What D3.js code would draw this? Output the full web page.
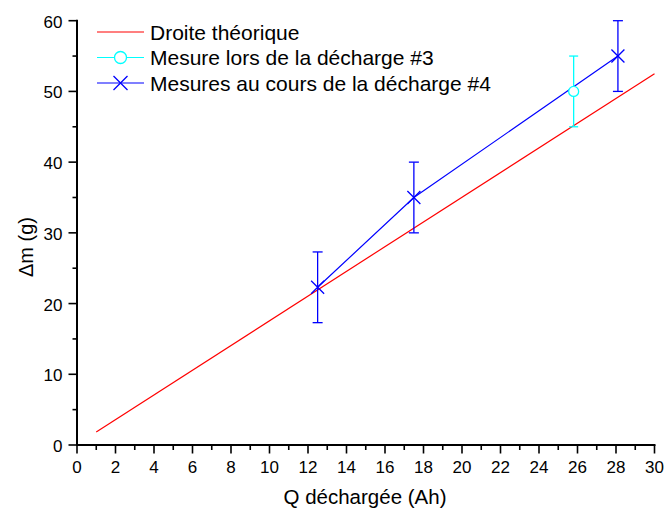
<!DOCTYPE html>
<html><head><meta charset="utf-8">
<script src="https://cdn.jsdelivr.net/npm/d3@7"></script>
<style>body{margin:0;background:#fff}svg{display:block}text{font-family:"Liberation Sans",Arial,sans-serif;fill:#000}</style>
</head><body>
<svg id="c" width="664" height="510"></svg>
<script>
// Data
const theoQ = [1, 30];
const theoDm = [1.85, 52.5];
const d3Q = [25.8];
const d3Dm = [50];
const d3Err = [5];
const d4Q = [12.5, 17.5, 28.1];
const d4Dm = [22.3, 35, 55];
const d4Err = [5, 5, 5];
const xTicks = [0,2,4,6,8,10,12,14,16,18,20,22,24,26,28,30];
const yTicks = [0,10,20,30,40,50,60];
const legendLabels = ["Droite théorique", "Mesure lors de la décharge #3", "Mesures au cours de la décharge #4"];
const xTitle = "Q déchargée (Ah)";
const yTitle = "Δm (g)";

const svg = d3.select("#c");
const x = d3.scaleLinear().domain([0,30]).range([77,654.5]);
const y = d3.scaleLinear().domain([0,60]).range([445,20.7]);
const RED="#ff0000", CYAN="#00ffff", BLUE="#0000ff";

// theoretical line
svg.append("path").datum(theoQ.map((q,i)=>[q,theoDm[i]]))
  .attr("d", d3.line().x(d=>x(d[0])).y(d=>y(d[1])))
  .attr("fill","none").attr("stroke",RED).attr("stroke-width",1.2);

// series #4 line
svg.append("path").datum(d4Q.map((q,i)=>[q,d4Dm[i]]))
  .attr("d", d3.line().x(d=>x(d[0])).y(d=>y(d[1])))
  .attr("fill","none").attr("stroke",BLUE).attr("stroke-width",1.2);

function errBars(Q, Dm, E, col, cap){
  const g = svg.append("g").attr("stroke",col).attr("stroke-width",1.3).attr("fill","none");
  Q.forEach((q,i)=>{
    const cx = x(q), y1 = y(Dm[i]+E[i]), y0 = y(Dm[i]-E[i]);
    g.append("line").attr("x1",cx).attr("x2",cx).attr("y1",y1).attr("y2",y0);
    g.append("line").attr("x1",cx-cap).attr("x2",cx+cap).attr("y1",y1).attr("y2",y1);
    g.append("line").attr("x1",cx-cap).attr("x2",cx+cap).attr("y1",y0).attr("y2",y0);
  });
}
errBars(d3Q,d3Dm,d3Err,CYAN,4.5);
errBars(d4Q,d4Dm,d4Err,BLUE,5);

function circleMarker(g,cx,cy,r){ g.append("circle").attr("cx",cx).attr("cy",cy).attr("r",r).attr("fill","#fff").attr("stroke",CYAN).attr("stroke-width",1.3); }
function crossMarker(g,cx,cy,h){
  g.append("path").attr("d",`M${cx-h},${cy-h}L${cx+h},${cy+h}M${cx-h},${cy+h}L${cx+h},${cy-h}`).attr("stroke",BLUE).attr("stroke-width",1.3).attr("fill","none");
}
const mg = svg.append("g");
d3Q.forEach((q,i)=>circleMarker(mg,x(q),y(d3Dm[i]),5));
d4Q.forEach((q,i)=>crossMarker(mg,x(q),y(d4Dm[i]),6.5));

// axes
const xMinor = d3.range(0,31,1).filter(v=>v%2!==0);
const yMinor = d3.range(5,60,10);
const ax = svg.append("g").attr("stroke","#000");
ax.append("line").attr("x1",x(0)-1).attr("x2",x(30)+1).attr("y1",y(0)).attr("y2",y(0)).attr("stroke-width",2);
ax.append("line").attr("x1",x(0)).attr("x2",x(0)).attr("y1",y(0)+1).attr("y2",y(60)-1).attr("stroke-width",2);
xTicks.forEach(v=>ax.append("line").attr("x1",x(v)).attr("x2",x(v)).attr("y1",y(0)).attr("y2",y(0)+8.5).attr("stroke-width",1.6));
xMinor.forEach(v=>ax.append("line").attr("x1",x(v)).attr("x2",x(v)).attr("y1",y(0)).attr("y2",y(0)+5).attr("stroke-width",1.6));
yTicks.forEach(v=>ax.append("line").attr("x1",x(0)-8.5).attr("x2",x(0)).attr("y1",y(v)).attr("y2",y(v)).attr("stroke-width",1.6));
yMinor.forEach(v=>ax.append("line").attr("x1",x(0)-4.5).attr("x2",x(0)).attr("y1",y(v)).attr("y2",y(v)).attr("stroke-width",1.6));

svg.append("g").selectAll("text").data(xTicks).join("text")
  .attr("x",d=>x(d)).attr("y",472.5).attr("text-anchor","middle").attr("font-size",17).text(d=>d);
svg.append("g").selectAll("text").data(yTicks).join("text")
  .attr("x",62.5).attr("y",d=>y(d)+7).attr("text-anchor","end").attr("font-size",17).text(d=>d);

svg.append("text").attr("x",365).attr("y",504).attr("text-anchor","middle").attr("font-size",20.5).text(xTitle);
svg.append("text").attr("transform",`translate(${33},${247}) rotate(-90)`).attr("text-anchor","middle").attr("font-size",20).text(yTitle);

// legend
const lg = svg.append("g");
const ly = [32, 57.5, 83];
const cols = [RED, CYAN, BLUE];
ly.forEach((yy,i)=>{
  lg.append("line").attr("x1",97).attr("x2",144).attr("y1",yy).attr("y2",yy).attr("stroke",cols[i]).attr("stroke-width",1.2);
  if(i===1) circleMarker(lg,120.5,yy,6);
  if(i===2) crossMarker(lg,120.5,yy,7);
  lg.append("text").attr("x",150).attr("y",yy+7.5).attr("font-size",21).text(legendLabels[i]);
});
</script>
</body></html>
